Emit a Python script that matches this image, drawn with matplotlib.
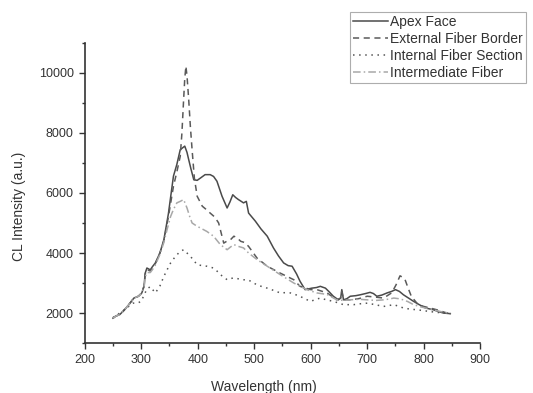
import numpy as np
import matplotlib
matplotlib.use("Agg")
import matplotlib.pyplot as plt
from matplotlib.ticker import MultipleLocator

# Спектри катодолюмінесценції
apex_wl = [250, 255, 262, 270, 278, 287, 295, 301, 305, 307, 310, 316, 320, 325, 333,
           340, 348, 357, 363, 369, 373, 377, 381, 384, 388, 393, 399, 405, 413, 422,
           428, 434, 443, 452, 457, 462, 467, 472, 477, 481, 486, 490, 502, 512, 523,
           534, 543, 552, 560, 567, 575, 581, 590, 602, 610, 617, 626, 633, 640, 649,
           653, 655, 658, 664, 670, 680, 688, 697, 705, 711, 717, 726, 735, 743, 750,
           757, 764, 773, 782, 792, 803, 817, 826, 835, 847]
apex_int = [1830, 1900, 1950, 2100, 2280, 2500, 2560, 2670, 2900, 3330, 3500, 3440, 3550, 3670, 4000,
            4440, 5300, 6560, 6950, 7440, 7500, 7560, 7350, 7110, 6800, 6440, 6420, 6500, 6610, 6610,
            6550, 6390, 5890, 5500, 5700, 5940, 5850, 5780, 5720, 5670, 5720, 5330, 5060, 4800, 4560,
            4170, 3900, 3670, 3580, 3560, 3300, 3060, 2780, 2830, 2850, 2890, 2830, 2700, 2560, 2440,
            2500, 2780, 2440, 2480, 2560, 2580, 2610, 2650, 2690, 2650, 2560, 2600, 2670, 2720, 2780,
            2720, 2610, 2500, 2390, 2280, 2170, 2110, 2050, 2000, 1980]

ext_wl = [250, 255, 262, 270, 278, 287, 295, 301, 305, 307, 310, 316, 320, 325, 333,
          340, 348, 357, 363, 369, 372, 375, 377, 379, 381, 384, 387, 390, 394, 399,
          408, 415, 422, 430, 437, 446, 452, 458, 464, 470, 476, 483, 490, 505, 523,
          546, 570, 581, 600, 611, 629, 646, 653, 655, 658, 670, 685, 700, 715, 729,
          743, 747, 751, 758, 762, 767, 772, 778, 790, 800, 811, 825, 841, 847]
ext_int = [1830, 1900, 1950, 2100, 2280, 2500, 2560, 2670, 2900, 3300, 3450, 3400, 3500, 3650, 4000,
           4400, 5200, 6220, 6700, 7220, 8000, 9110, 9800, 10220, 9900, 9110, 8200, 7440, 6500, 5890,
           5560, 5450, 5330, 5200, 5000, 4330, 4400, 4444, 4560, 4500, 4390, 4350, 4220, 3830, 3560,
           3330, 3110, 2890, 2780, 2780, 2670, 2440, 2500, 2720, 2440, 2440, 2480, 2560, 2530, 2500,
           2670, 2800, 2940, 3240, 3200, 3110, 2850, 2560, 2280, 2220, 2170, 2100, 2000, 1980]

int_wl = [250, 258, 266, 275, 285, 293, 300, 305, 310, 316, 325, 333, 340, 346, 352,
          357, 363, 369, 375, 381, 387, 393, 399, 408, 416, 422, 428, 434, 440, 446,
          452, 458, 464, 472, 481, 490, 497, 505, 514, 523, 535, 546, 555, 564, 572,
          581, 590, 600, 608, 617, 628, 640, 650, 658, 667, 676, 688, 700, 714, 729,
          738, 747, 755, 764, 776, 788, 800, 811, 825, 840, 847]
int_int = [1850, 1950, 2050, 2180, 2330, 2330, 2390, 2600, 2800, 2880, 2670, 2900, 3220, 3450, 3670,
           3800, 3940, 4050, 4110, 4000, 3890, 3750, 3610, 3580, 3560, 3530, 3500, 3400, 3280, 3200,
           3110, 3150, 3170, 3140, 3110, 3100, 3020, 2940, 2880, 2830, 2750, 2670, 2680, 2670, 2620,
           2560, 2470, 2390, 2450, 2500, 2440, 2390, 2330, 2280, 2280, 2280, 2310, 2330, 2280, 2220,
           2250, 2280, 2230, 2170, 2130, 2110, 2080, 2050, 2020, 2000, 1980]

med_wl = [250, 255, 262, 270, 278, 287, 295, 301, 305, 307, 310, 316, 320, 325, 333,
          340, 346, 352, 357, 363, 369, 375, 381, 386, 390, 398, 405, 416, 428, 440,
          452, 458, 464, 472, 481, 490, 505, 523, 546, 570, 593, 611, 629, 646, 658,
          670, 685, 700, 715, 729, 740, 747, 755, 764, 772, 782, 796, 811, 830, 847]
med_int = [1830, 1900, 1950, 2100, 2280, 2500, 2560, 2670, 2850, 3200, 3350, 3350, 3450, 3600, 3950,
           4350, 4800, 5220, 5450, 5670, 5720, 5780, 5500, 5200, 5000, 4900, 4830, 4720, 4560, 4280,
           4110, 4200, 4280, 4220, 4170, 4000, 3780, 3560, 3280, 3000, 2780, 2670, 2620, 2440, 2420,
           2440, 2460, 2440, 2420, 2440, 2470, 2500, 2480, 2440, 2380, 2280, 2200, 2130, 2050, 1990]

labels = ["Apex Face", "External Fiber Border", "Internal Fiber Section", "Intermediate Fiber"]

plt.rcParams['font.family'] = ['Liberation Sans', 'DejaVu Sans']

fig = plt.figure(figsize=(5.33, 3.93), dpi=100)
ax = fig.add_axes([0.159, 0.127, 0.742, 0.764])

ax.plot(apex_wl, apex_int, color='#4a4a4a', lw=1.1, ls='-', label=labels[0])
ax.plot(ext_wl, ext_int, color='#5a5a5a', lw=1.1, ls=(0, (4, 3)), label=labels[1])
ax.plot(int_wl, int_int, color='#555555', lw=1.1, ls=(0, (1, 3)), label=labels[2])
ax.plot(med_wl, med_int, color='#a8a8a8', lw=1.1, ls=(0, (5, 2, 1, 2)), label=labels[3])

ax.set_xlim(200, 900)
ax.set_ylim(1000, 11000)
ax.xaxis.set_major_locator(MultipleLocator(100))
ax.xaxis.set_minor_locator(MultipleLocator(50))
ax.yaxis.set_minor_locator(MultipleLocator(1000))
ax.set_yticks([2000, 4000, 6000, 8000, 10000])

for s in ['top', 'right']:
    ax.spines[s].set_visible(False)
for s in ['left', 'bottom']:
    ax.spines[s].set_linewidth(1.2)
    ax.spines[s].set_color('#333333')

ax.tick_params(which='major', direction='out', length=4, width=1, colors='#333333',
               labelsize=9, pad=4)
ax.tick_params(which='minor', direction='out', length=2.5, width=1, colors='#333333')

ax.set_xlabel('Wavelength (nm)', fontsize=10, color='#333333')
ax.xaxis.set_label_coords(0.452, -0.122)
ax.set_ylabel('CL Intensity (a.u.)', fontsize=10, color='#333333')
ax.yaxis.set_label_coords(-0.148, 0.455)

leg = fig.legend(loc='upper left', bbox_to_anchor=(350 / 533, 1 - 12 / 393),
                 fontsize=10, frameon=True, fancybox=False, borderaxespad=0,
                 handlelength=2.5, handletextpad=0.15, labelspacing=0.22,
                 borderpad=0.22)
leg.get_frame().set_edgecolor('#999999')
leg.get_frame().set_linewidth(0.8)
for t in leg.get_texts():
    t.set_color('#333333')

fig.savefig('out.png', dpi=100)
